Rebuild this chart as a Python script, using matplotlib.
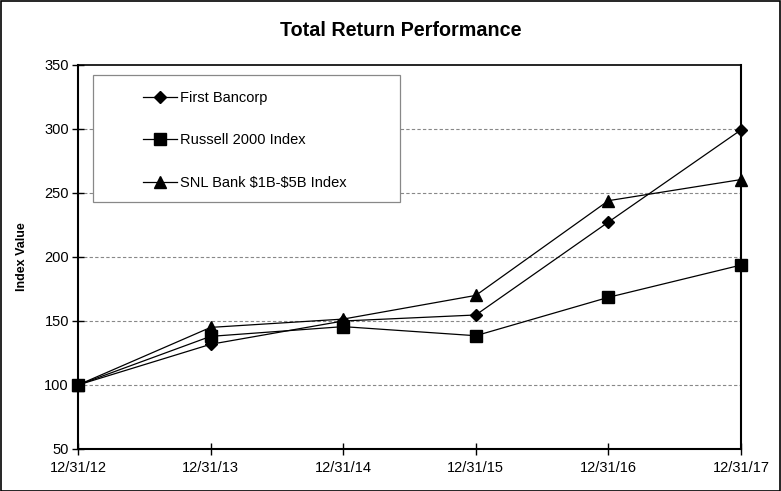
import matplotlib
matplotlib.use("Agg")
import matplotlib.pyplot as plt
from matplotlib.patches import Rectangle

plt.rcParams['font.family'] = ['Liberation Sans', 'DejaVu Sans']

dates = ["12/31/12", "12/31/13", "12/31/14", "12/31/15", "12/31/16", "12/31/17"]
first_bancorp = [100, 131.8, 150.0, 154.7, 227.3, 299.3]
russell_2000 = [100, 138.0, 145.6, 138.5, 168.5, 193.7]
snl_bank = [100, 145.0, 151.5, 170.0, 244.0, 260.5]
y_ticks = [50, 100, 150, 200, 250, 300, 350]

fig = plt.figure(figsize=(7.81, 4.91), dpi=100)
W, H = 781, 491
AX0, AX1, AY0, AY1 = 78, 741, 65, 449
ax = fig.add_axes([AX0 / W, 1 - AY1 / H, (AX1 - AX0) / W, (AY1 - AY0) / H])

x = list(range(len(dates)))
ax.plot(x, first_bancorp, color='black', lw=0.9, marker='D', ms=6, label='First Bancorp', clip_on=False, zorder=3)
ax.plot(x, russell_2000, color='black', lw=0.9, marker='s', ms=8, label='Russell 2000 Index', clip_on=False, zorder=3)
ax.plot(x, snl_bank, color='black', lw=0.9, marker='^', ms=8, label=r'SNL Bank \$1B-\$5B Index', clip_on=False, zorder=3)

ax.set_xlim(0, len(dates) - 1)
ax.set_ylim(50, 350)
ax.set_xticks(x)
ax.set_xticklabels(dates, fontsize=10.5)
ax.set_yticks(y_ticks)
ax.set_yticklabels([str(v) for v in y_ticks], fontsize=10.5)
ax.tick_params(axis='x', direction='inout', length=9, width=1, pad=4)
ax.tick_params(axis='y', direction='inout', length=9, width=1, pad=2)
for yv in y_ticks[1:-1]:
    ax.axhline(yv, color='#888888', lw=0.8, ls=(0, (3, 2)), zorder=1)
for s in ax.spines.values():
    s.set_color('black')
ax.spines['left'].set_linewidth(1.5)
ax.spines['bottom'].set_linewidth(1.5)
ax.spines['top'].set_linewidth(1.2)
ax.spines['right'].set_linewidth(1.5)

ax.set_ylabel('Index Value', fontsize=9, fontweight='bold', labelpad=12)
fig.text(401 / W, 1 - 30 / H, 'Total Return Performance', fontsize=14.2, fontweight='bold',
         ha='center', va='center')

def axx(px):
    return (px - AX0) / (AX1 - AX0)

def axy(py):
    return 1 - (py - AY0) / (AY1 - AY0)

# legend box
box = Rectangle((axx(93), axy(202)), axx(400) - axx(93), axy(75) - axy(202), transform=ax.transAxes,
                fill=True, facecolor='white', edgecolor='#888888', lw=0.9, zorder=4)
ax.add_patch(box)
leg = ax.legend(loc='upper left', bbox_to_anchor=(axx(143), axy(91)),
                frameon=False, fontsize=10.5,
                labelspacing=1.95, handlelength=2.3, borderpad=0, borderaxespad=0,
                handletextpad=0.25)
leg.set_zorder(5)

fig.patches.append(Rectangle((0.5 / W, 0.5 / H), 1 - 1.5 / W, 1 - 1.5 / H, transform=fig.transFigure,
                             fill=False, edgecolor='black', lw=1.2))

fig.savefig('out.png', dpi=100)
